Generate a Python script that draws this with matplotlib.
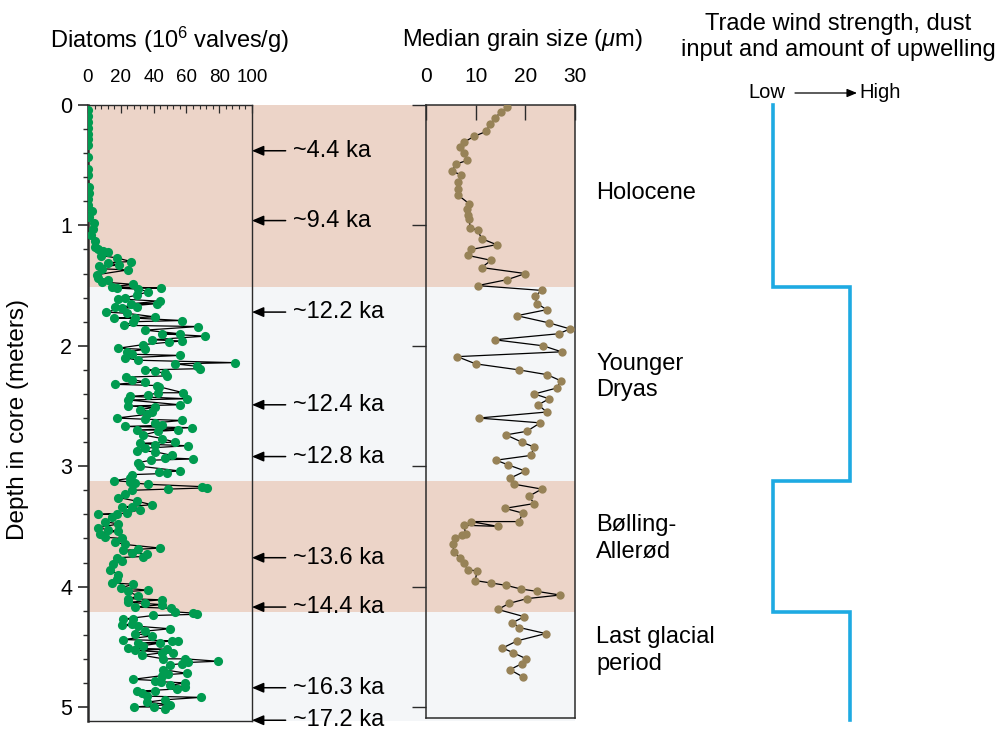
import matplotlib.pyplot as plt
from matplotlib.ticker import MultipleLocator

plt.rcParams['font.family'] = ['Liberation Sans', 'DejaVu Sans']
plt.rcParams['mathtext.fontset'] = 'custom'
plt.rcParams['mathtext.rm'] = 'Liberation Sans'
plt.rcParams['mathtext.it'] = 'Liberation Sans:italic'

W, H = 1003, 730

# diatom concentration down core (depth in m, 10^6 valves/g)
diatom_depth = [
    0.04, 0.09, 0.14, 0.19, 0.24, 0.28, 0.33, 0.43, 0.53, 0.58,
    0.68, 0.73, 0.78, 0.83, 0.88, 0.93, 0.98, 1.03, 1.08, 1.13,
    1.18, 1.20, 1.21, 1.22, 1.25, 1.27, 1.30, 1.31, 1.33, 1.34,
    1.36, 1.37, 1.41, 1.44, 1.45, 1.47, 1.49, 1.51, 1.52, 1.52,
    1.53, 1.55, 1.58, 1.60, 1.61, 1.63, 1.65, 1.65, 1.68, 1.68,
    1.69, 1.72, 1.73, 1.76, 1.77, 1.77, 1.79, 1.80, 1.83, 1.84,
    1.87, 1.90, 1.90, 1.92, 1.95, 1.96, 1.97, 1.99, 2.02, 2.03,
    2.05, 2.07, 2.08, 2.10, 2.12, 2.14, 2.15, 2.17, 2.19, 2.20,
    2.21, 2.23, 2.25, 2.26, 2.28, 2.30, 2.32, 2.33, 2.34, 2.39,
    2.39, 2.41, 2.42, 2.44, 2.45, 2.49, 2.50, 2.51, 2.53, 2.55,
    2.57, 2.60, 2.61, 2.62, 2.64, 2.66, 2.67, 2.68, 2.70, 2.70,
    2.71, 2.74, 2.77, 2.80, 2.81, 2.82, 2.83, 2.85, 2.87, 2.88,
    2.91, 2.93, 2.94, 2.95, 2.97, 3.00, 3.04, 3.05, 3.06, 3.07,
    3.10, 3.12, 3.13, 3.14, 3.15, 3.17, 3.18, 3.19, 3.20, 3.23,
    3.26, 3.29, 3.32, 3.34, 3.34, 3.36, 3.39, 3.40, 3.40, 3.42,
    3.46, 3.48, 3.51, 3.53, 3.54, 3.56, 3.59, 3.60, 3.63, 3.65,
    3.68, 3.69, 3.70, 3.72, 3.73, 3.75, 3.76, 3.79, 3.81, 3.86,
    3.90, 3.94, 3.97, 3.98, 4.01, 4.03, 4.04, 4.08, 4.10, 4.11,
    4.13, 4.14, 4.15, 4.17, 4.18, 4.21, 4.22, 4.23, 4.24, 4.27,
    4.27, 4.31, 4.32, 4.33, 4.35, 4.37, 4.39, 4.41, 4.44, 4.45,
    4.45, 4.47, 4.47, 4.49, 4.51, 4.52, 4.53, 4.55, 4.55, 4.57,
    4.60, 4.60, 4.62, 4.63, 4.64, 4.65, 4.69, 4.72, 4.73, 4.74,
    4.77, 4.78, 4.79, 4.80, 4.82, 4.83, 4.85, 4.87, 4.87, 4.88,
    4.91, 4.92, 4.94, 4.96, 4.98, 5.00, 5.00, 5.02,
]
diatom_conc = [
    0, 0, 0, 0, 0, 0, 0, 0, 0, 0,
    0.8, 0.5, 0, 0, 2.4, 0.8, 3.7, 3.3, 2.0, 4.1,
    4.5, 6.3, 9.3, 12.0, 7.9, 17.5, 26.2, 12.0, 18.9, 6.7,
    8.3, 24.2, 5.3, 6.3, 12.4, 8.7, 27.6, 14.4, 44.5, 17.5,
    30.7, 36.8, 29.7, 22.6, 18.5, 43.9, 26.2, 41.9, 16.5, 29.7,
    20.5, 10.8, 23.6, 40.9, 16.0, 28.7, 57.1, 27.6, 22.1, 67.3,
    34.8, 56.1, 44.9, 71.3, 38.8, 57.1, 49.4, 33.7, 18.5, 34.8,
    23.6, 26.6, 56.1, 22.6, 30.7, 89.6, 53.0, 66.3, 68.3, 34.8,
    40.9, 47.0, 48.0, 23.0, 26.6, 34.8, 16.5, 41.9, 43.3, 58.1,
    42.9, 36.4, 25.6, 60.2, 24.6, 56.1, 24.2, 40.9, 31.7, 38.8,
    35.8, 17.5, 34.8, 57.1, 40.9, 45.3, 22.6, 63.2, 29.7, 54.7,
    42.9, 33.7, 44.9, 53.0, 31.7, 40.9, 60.8, 34.8, 29.7, 40.9,
    51.0, 47.0, 64.2, 38.4, 30.7, 31.7, 56.1, 43.3, 48.0, 26.6,
    25.6, 16.0, 25.6, 28.7, 36.4, 69.7, 72.4, 49.0, 26.6, 22.6,
    18.5, 29.7, 38.8, 20.5, 26.6, 31.7, 23.6, 6.3, 17.5, 14.4,
    10.4, 18.5, 6.3, 12.4, 18.1, 7.3, 10.4, 20.5, 16.5, 22.6,
    43.9, 30.7, 21.5, 26.6, 35.8, 33.7, 17.5, 20.5, 15.4, 13.4,
    18.5, 17.5, 14.8, 27.6, 20.1, 36.8, 24.6, 30.7, 24.6, 44.9,
    24.6, 34.8, 44.9, 28.7, 50.6, 53.0, 64.2, 66.3, 39.8, 21.5,
    27.6, 26.6, 20.5, 30.7, 50.0, 34.8, 28.7, 38.8, 21.5, 51.0,
    54.7, 30.7, 43.9, 33.7, 24.6, 48.0, 28.7, 52.0, 44.9, 33.1,
    45.9, 59.1, 79.1, 61.2, 57.1, 50.0, 45.9, 60.2, 49.0, 44.9,
    27.6, 40.9, 44.5, 59.1, 50.0, 59.1, 54.1, 29.7, 40.9, 32.7,
    35.8, 68.9, 47.0, 35.8, 50.0, 28.2, 40.4, 47.0,
]

# median grain size (um)
grain_depth = [
    0.02, 0.06, 0.11, 0.16, 0.22, 0.26, 0.31, 0.35, 0.40, 0.46,
    0.49, 0.55, 0.58, 0.64, 0.70, 0.75, 0.82, 0.86, 0.91, 0.95,
    1.02, 1.04, 1.11, 1.16, 1.20, 1.25, 1.29, 1.35, 1.40, 1.45,
    1.50, 1.54, 1.59, 1.65, 1.70, 1.75, 1.81, 1.86, 1.90, 1.95,
    2.00, 2.05, 2.09, 2.15, 2.20, 2.24, 2.29, 2.35, 2.40, 2.44,
    2.49, 2.55, 2.60, 2.64, 2.71, 2.74, 2.80, 2.84, 2.91, 2.95,
    2.99, 3.04, 3.10, 3.15, 3.19, 3.25, 3.31, 3.35, 3.39, 3.46,
    3.46, 3.50, 3.49, 3.56, 3.57, 3.60, 3.65, 3.71, 3.76, 3.80,
    3.86, 3.87, 3.95, 3.97, 3.99, 4.02, 4.04, 4.07, 4.10, 4.14,
    4.19, 4.25, 4.30, 4.34, 4.39, 4.45, 4.51, 4.55, 4.60, 4.64,
    4.69, 4.75,
]
grain_size = [
    16.4, 15.0, 13.9, 12.9, 12.1, 9.7, 7.6, 6.9, 7.6, 8.3,
    6.1, 5.2, 7.1, 6.5, 6.5, 6.5, 8.7, 8.3, 8.4, 8.7,
    8.9, 10.4, 11.2, 14.2, 9.1, 8.5, 13.1, 11.2, 20.0, 16.4,
    10.4, 23.3, 21.9, 22.4, 24.3, 18.3, 24.8, 29.0, 26.7, 13.8,
    23.6, 27.3, 6.3, 10.0, 18.7, 24.4, 27.1, 26.4, 21.8, 24.8,
    22.6, 24.3, 10.6, 23.0, 20.3, 16.1, 19.3, 21.7, 21.2, 14.1,
    16.6, 20.0, 16.9, 17.8, 23.3, 20.7, 21.8, 15.9, 19.5, 18.7,
    9.0, 14.5, 7.6, 8.0, 7.2, 5.8, 5.4, 5.6, 6.8, 7.6,
    8.4, 10.3, 9.9, 13.1, 16.2, 19.1, 22.4, 27.0, 20.3, 16.7,
    14.5, 19.8, 17.4, 18.8, 24.1, 18.4, 15.4, 17.6, 20.2, 19.3,
    16.9, 19.5,
]

# climate intervals (depth boundaries in m)
band_edges = [0, 1.51, 3.12, 4.21, 5.12]
band_colors = ['#ecd4c8', '#f4f6f8', '#ecd4c8', '#f4f6f8']
period_names = ['Holocene', 'Younger\nDryas', 'Bølling-\nAllerød', 'Last glacial\nperiod']
period_depth = [0.73, 2.26, 3.60, 4.53]

# radiocarbon ages
age_labels = ['~4.4 ka', '~9.4 ka', '~12.2 ka', '~12.4 ka', '~12.8 ka',
              '~13.6 ka', '~14.4 ka', '~16.3 ka', '~17.2 ka']
age_depth = [0.38, 0.96, 1.72, 2.49, 2.92, 3.76, 4.17, 4.84, 5.11]

# trade wind strength: 0 = low, 1 = high
wind_edges = [0, 1.51, 3.12, 4.21, 5.11]
wind_level = [0, 1, 0, 1]


def px(x0, y0, x1, y1):
    # pixel box -> figure rect
    return [x0 / W, 1 - y1 / H, (x1 - x0) / W, (y1 - y0) / H]


def depth_at(ypix):
    return (ypix - 105) / 120.4


fig = plt.figure(figsize=(W / 100, H / 100), dpi=100)
spine_col = '#2b2b2b'

# shaded background across both panels
bg = fig.add_axes(px(88, 105, 575, 721))
bg.set_xlim(0, 1)
bg.set_ylim(depth_at(721), 0)
bg.axis('off')
for top, bot, c in zip(band_edges[:-1], band_edges[1:], band_colors):
    bg.axhspan(top, bot, color=c, lw=0)

# diatom panel
ax1 = fig.add_axes(px(88, 105, 252, 721))
ax1.patch.set_alpha(0)
ax1.plot(diatom_conc, diatom_depth, '-', color='k', lw=0.9, zorder=2)
ax1.plot(diatom_conc, diatom_depth, 'o', color='#009b50', ms=6.6, mec='none', zorder=3)
ax1.set_xlim(0, 100)
ax1.set_ylim(depth_at(721), 0)
ax1.xaxis.tick_top()
ax1.set_xticks(range(0, 101, 20))
ax1.xaxis.set_minor_locator(MultipleLocator(4))
ax1.set_yticks(range(6))
ax1.yaxis.set_minor_locator(MultipleLocator(0.2))
ax1.tick_params(axis='x', which='major', direction='in', length=6, width=0.9,
                pad=14, labelsize=13.5, color=spine_col)
ax1.tick_params(axis='x', which='minor', direction='in', length=3, width=0.8, color=spine_col)
ax1.tick_params(axis='y', which='major', direction='out', length=7.5, width=1.2,
                pad=4, labelsize=15.5, color=spine_col)
ax1.tick_params(axis='y', which='minor', direction='out', length=3.5, width=1.0, color=spine_col)
for s in ax1.spines.values():
    s.set_color(spine_col)
    s.set_linewidth(1.0)
ax1.spines['left'].set_linewidth(1.8)

# grain size panel
ax2 = fig.add_axes(px(426, 105, 575, 718))
ax2.patch.set_alpha(0)
ax2.plot(grain_size, grain_depth, '-', color='k', lw=0.9, zorder=2)
ax2.plot(grain_size, grain_depth, 'o', color='#978257', ms=6.0, mec='none', zorder=3)
ax2.set_xlim(0, 30)
ax2.set_ylim(depth_at(718), 0)
ax2.xaxis.tick_top()
ax2.set_xticks([0, 10, 20, 30])
ax2.set_yticks(range(6))
ax2.set_yticklabels([])
ax2.tick_params(axis='x', direction='in', length=11, width=1.0, pad=14,
                labelsize=15, color=spine_col)
ax2.tick_params(axis='y', direction='out', length=10, width=1.0, color=spine_col)
for s in ax2.spines.values():
    s.set_color(spine_col)
    s.set_linewidth(1.1)

# age arrows between the panels
ytr = ax1.get_yaxis_transform()
for lab, d in zip(age_labels, age_depth):
    ax1.annotate('', xy=(1.0, d), xycoords=ytr, xytext=(1.205, d), textcoords=ytr,
                 arrowprops=dict(arrowstyle='-|>,head_length=0.7,head_width=0.3',
                                 color='k', lw=1.1, shrinkA=0, shrinkB=0),
                 annotation_clip=False)
    ax1.text(1.25, d, lab, transform=ytr, ha='left', va='center', fontsize=17)

# interval names
ytr2 = ax2.get_yaxis_transform()
for name, d in zip(period_names, period_depth):
    ax2.text(1.141, d, name, transform=ytr2, ha='left', va='center',
             fontsize=17, linespacing=1.25)

# trade wind step curve
ax3 = fig.add_axes(px(773, 105, 850, 721))
ax3.set_xlim(0, 1)
ax3.set_ylim(depth_at(721), 0)
ax3.axis('off')
wx, wy = [], []
for i, lev in enumerate(wind_level):
    wx += [lev, lev]
    wy += [wind_edges[i], wind_edges[i + 1]]
ax3.plot(wx, wy, color='#1eaae2', lw=2.6, clip_on=False, solid_joinstyle='miter')

# titles and labels
fig.text(170 / W, 1 - 40 / H, r'Diatoms (10$^6$ valves/g)', ha='center', va='center', fontsize=17)
fig.text(522 / W, 1 - 40 / H, r'Median grain size ($\mu$m)', ha='center', va='center', fontsize=17)
fig.text(18 / W, 1 - 419 / H, 'Depth in core (meters)', rotation=90,
         ha='center', va='center', fontsize=17.5)
fig.text(838 / W, 1 - 37 / H, 'Trade wind strength, dust\ninput and amount of upwelling',
         ha='center', va='center', fontsize=17, linespacing=1.27)
fig.text(767 / W, 1 - 92 / H, 'Low', ha='center', va='center', fontsize=14.5)
fig.text(880 / W, 1 - 92 / H, 'High', ha='center', va='center', fontsize=14.5)
fig.add_artist(plt.Annotation('', xy=(857 / W, 1 - 93 / H), xycoords='figure fraction',
                              xytext=(795 / W, 1 - 93 / H), textcoords='figure fraction',
                              arrowprops=dict(arrowstyle='-|>,head_length=0.6,head_width=0.25',
                                              color='k', lw=0.9, shrinkA=0, shrinkB=0)))

fig.savefig('out.png', dpi=100)
